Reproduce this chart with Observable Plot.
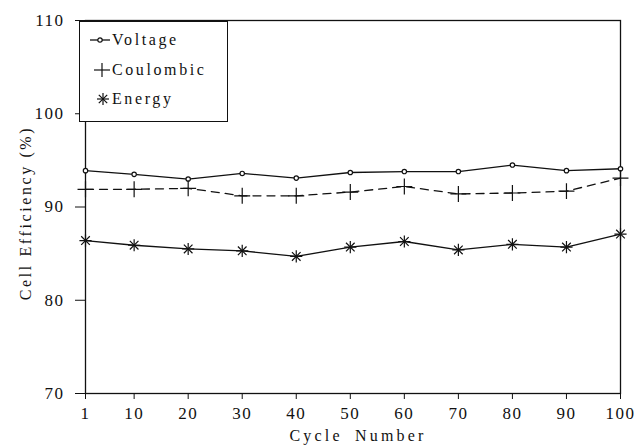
<!DOCTYPE html>
<html>
<head>
<meta charset="utf-8">
<script src="https://cdn.jsdelivr.net/npm/d3@7"></script>
<script src="https://cdn.jsdelivr.net/npm/@observablehq/plot@0.6"></script>
<style>
  html, body { margin: 0; padding: 0; background: #fff; }
  #wrap { position: relative; width: 642px; height: 447px; font-family: "Liberation Serif", "Times New Roman", Tinos, "Noto Serif", "DejaVu Serif", FreeSerif, serif; color: #111; overflow: hidden; }
  #wrap svg { display: block; }
  .legend { position: absolute; left: 79px; top: 21px; width: 149px; height: 101px; box-sizing: border-box; border: 1.3px solid #111; background: #fff; }
  .legend .row { position: absolute; left: 0; height: 24px; display: flex; align-items: center; transform: translateY(-50%); }
  .legend .icon { width: 32px; height: 20px; display: block; }
  .legend .txt { font-size: 16px; letter-spacing: 2.6px; line-height: 1; }
  .xtitle { position: absolute; left: 358px; top: 427px; transform: translateX(-50%); font-size: 16px; letter-spacing: 3.2px; word-spacing: 5px; white-space: nowrap; }
  .ytitle { position: absolute; left: 26px; top: 213px; transform: translate(-50%, -50%) rotate(-90deg); font-size: 16px; letter-spacing: 2.6px; white-space: nowrap; }
</style>
</head>
<body>
<div id="wrap"></div>
<script>
// ---- data ----
const cycles    = [1, 10, 20, 30, 40, 50, 60, 70, 80, 90, 100];
const voltage   = [93.9, 93.5, 93.0, 93.6, 93.1, 93.7, 93.8, 93.8, 94.5, 93.9, 94.1];
const coulombic = [91.9, 91.9, 92.0, 91.2, 91.2, 91.6, 92.2, 91.4, 91.5, 91.7, 93.1];
const energy    = [86.4, 85.9, 85.5, 85.3, 84.7, 85.7, 86.3, 85.4, 86.0, 85.7, 87.1];
const xTicks    = [1, 10, 20, 30, 40, 50, 60, 70, 80, 90, 100];
const yTicks    = [70, 80, 90, 100, 110];
const seriesNames = ["Voltage", "Coulombic", "Energy"];
const xTitle = "Cycle Number";
const yTitle = "Cell Efficiency (%)";

const toRows = (vals) => cycles.map((c, i) => ({cycle: c, value: vals[i]}));
const vRows = toRows(voltage);
const cRows = toRows(coulombic);
const eRows = toRows(energy);
const ink = "#111";
const serifStack = "'Liberation Serif', 'Times New Roman', Tinos, 'Noto Serif', 'DejaVu Serif', FreeSerif, serif";

const chart = Plot.plot({
  width: 642,
  height: 447,
  marginLeft: 85,
  marginRight: 22,
  marginTop: 20,
  marginBottom: 54,
  style: { fontFamily: serifStack, fontSize: "17px", letterSpacing: "1.5px", color: ink, background: "#fff" },
  x: { domain: [1, 100], ticks: xTicks, tickSize: 6, tickPadding: 7, label: null },
  y: { domain: [70, 110], ticks: yTicks, tickSize: 10, tickPadding: 11, label: null },
  marks: [
    Plot.frame({ stroke: ink, strokeWidth: 1.3 }),
    Plot.line(vRows, { x: "cycle", y: "value", stroke: ink, strokeWidth: 1.3 }),
    Plot.line(cRows, { x: "cycle", y: "value", stroke: ink, strokeWidth: 1.3, strokeDasharray: "8,6" }),
    Plot.line(eRows, { x: "cycle", y: "value", stroke: ink, strokeWidth: 1.3 }),
    Plot.dot(vRows, { x: "cycle", y: "value", r: 2.2, fill: "#fff", stroke: ink, strokeWidth: 1.2 }),
    Plot.dot(cRows, { x: "cycle", y: "value", symbol: "plus", r: 5.2, fill: "none", stroke: ink, strokeWidth: 1.2 }),
    Plot.dot(eRows, { x: "cycle", y: "value", symbol: "plus", r: 4, fill: "none", stroke: ink, strokeWidth: 1.2 }),
    Plot.dot(eRows, { x: "cycle", y: "value", symbol: "times", r: 4, fill: "none", stroke: ink, strokeWidth: 1.2 })
  ]
});

const wrap = document.getElementById("wrap");
wrap.appendChild(chart);

// axis titles
const xt = document.createElement("div");
xt.className = "xtitle"; xt.textContent = xTitle; wrap.appendChild(xt);
const yt = document.createElement("div");
yt.className = "ytitle"; yt.textContent = yTitle; wrap.appendChild(yt);

// legend
const icons = [
  `<svg class="icon" viewBox="0 0 32 20"><line x1="10" y1="10" x2="30" y2="10" stroke="${ink}" stroke-width="1.3"/><circle cx="20" cy="10" r="2.2" fill="#fff" stroke="${ink}" stroke-width="1.2"/></svg>`,
  `<svg class="icon" viewBox="0 0 32 20"><line x1="14" y1="10" x2="30" y2="10" stroke="${ink}" stroke-width="1.2"/><line x1="22" y1="3" x2="22" y2="17" stroke="${ink}" stroke-width="1.2"/></svg>`,
  `<svg class="icon" viewBox="0 0 32 20"><g stroke="${ink}" stroke-width="1.2"><line x1="17" y1="10" x2="29" y2="10"/><line x1="23" y1="4" x2="23" y2="16"/><line x1="18.8" y1="5.8" x2="27.2" y2="14.2"/><line x1="18.8" y1="14.2" x2="27.2" y2="5.8"/></g></svg>`
];
const rowCenters = [18, 48, 77];
const leg = document.createElement("div");
leg.className = "legend";
seriesNames.forEach((name, i) => {
  const row = document.createElement("div");
  row.className = "row";
  row.style.top = rowCenters[i] + "px";
  row.innerHTML = icons[i] + `<span class="txt">${name}</span>`;
  leg.appendChild(row);
});
wrap.appendChild(leg);
</script>
</body>
</html>
